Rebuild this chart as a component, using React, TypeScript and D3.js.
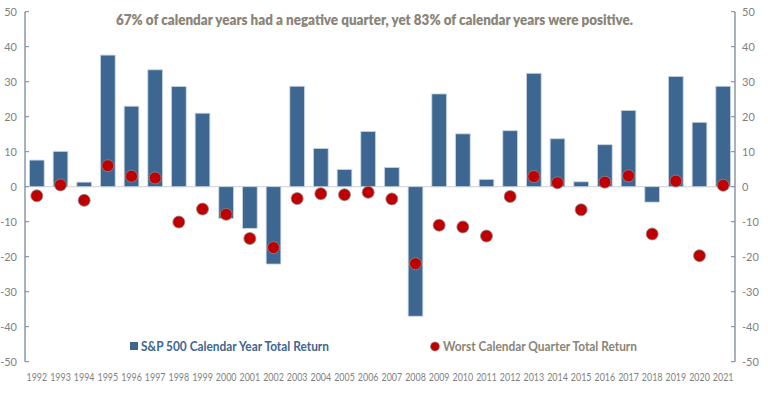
import React from "react";
import * as d3 from "d3";

const years = ["1992","1993","1994","1995","1996","1997","1998","1999","2000","2001","2002","2003","2004","2005","2006","2007","2008","2009","2010","2011","2012","2013","2014","2015","2016","2017","2018","2019","2020","2021"];
const annualReturn = [7.6,10.1,1.3,37.6,23.0,33.4,28.6,21.0,-9.1,-11.9,-22.1,28.7,10.9,4.9,15.8,5.5,-37.0,26.5,15.1,2.1,16.0,32.4,13.7,1.4,12.0,21.8,-4.4,31.5,18.4,28.7];
const worstQuarter = [-2.6,0.5,-3.9,6.0,3.0,2.5,-10.1,-6.4,-7.9,-14.8,-17.4,-3.4,-2.0,-2.3,-1.6,-3.5,-22.0,-11.0,-11.5,-14.1,-2.8,2.9,1.1,-6.6,1.3,3.1,-13.5,1.6,-19.7,0.4];
const yTicks = [50,40,30,20,10,0,-10,-20,-30,-40,-50];
const title = "67% of calendar years had a negative quarter, yet 83% of calendar years were positive.";
const barLabel = "S&P 500 Calendar Year Total Return";
const dotLabel = "Worst Calendar Quarter Total Return";

const W = 768, H = 395;
const left = 25, right = 735, top = 11.7, bottom = 361.7;
const font = "Lato, 'Open Sans', sans-serif";

export default function App() {
  const x = d3.scaleBand<string>().domain(years).range([left, right]).paddingInner(0.38).paddingOuter(0.19);
  const y = d3.scaleLinear().domain([-50, 50]).range([bottom, top]);
  const bw = x.bandwidth();
  return (
    <svg width={W} height={H} style={{ position: "absolute", left: 0, top: 0, background: "#fff" }}>
      <text x={374.5} y={25} textAnchor="middle" fontFamily={font} fontWeight={800} fontSize={14} fill="#8a8479" textLength={517} lengthAdjust="spacingAndGlyphs">{title}</text>
      <line x1={left} x2={right} y1={y(0)} y2={y(0)} stroke="#d9d9d9" strokeWidth={1.2} />
      {annualReturn.map((v, i) => (
        <rect key={"b" + i} x={x(years[i])!} width={bw} y={Math.min(y(v), y(0))} height={Math.abs(y(v) - y(0))} fill="#3d6690" stroke="#c8d4e2" strokeWidth={0.8} />
      ))}
      <line x1={left} x2={left} y1={top} y2={bottom} stroke="#7a8799" strokeWidth={1.3} />
      <line x1={right} x2={right} y1={top} y2={bottom} stroke="#7a8799" strokeWidth={1.3} />
      {yTicks.map(t => (
        <g key={"t" + t}>
          <line x1={left} x2={left + 4} y1={y(t)} y2={y(t)} stroke="#7a8799" strokeWidth={1} />
          <line x1={right - 4} x2={right} y1={y(t)} y2={y(t)} stroke="#7a8799" strokeWidth={1} />
          <text x={17} y={y(t) + 4} textAnchor="end" fontFamily={font} fontSize={11} fill="#7f7f7f">{t}</text>
          <text x={742} y={y(t) + 4} textAnchor="start" fontFamily={font} fontSize={11} fill="#7f7f7f">{t}</text>
        </g>
      ))}
      {worstQuarter.map((v, i) => (
        <circle key={"d" + i} cx={x(years[i])! + bw / 2} cy={y(v)} r={6} fill="#c00000" stroke="#8c8c8c" strokeWidth={0.8} />
      ))}
      {years.map(yr => (
        <text key={"x" + yr} x={x(yr)! + bw / 2 - 10.3} y={381} fontFamily={font} fontSize={10.5} fill="#7f7f7f" textLength={20.6} lengthAdjust="spacingAndGlyphs">{yr}</text>
      ))}
      <rect x={130} y={342} width={8} height={8} fill="#3d6690" />
      <text x={141} y={351} fontFamily={font} fontWeight={700} fontSize={13} fill="#3d6690" textLength={188} lengthAdjust="spacingAndGlyphs">{barLabel}</text>
      <circle cx={435} cy={346.5} r={4.5} fill="#c00000" stroke="#8c8c8c" strokeWidth={0.6} />
      <text x={443} y={351} fontFamily={font} fontWeight={700} fontSize={13} fill="#8a8479" textLength={194} lengthAdjust="spacingAndGlyphs">{dotLabel}</text>
    </svg>
  );
}
